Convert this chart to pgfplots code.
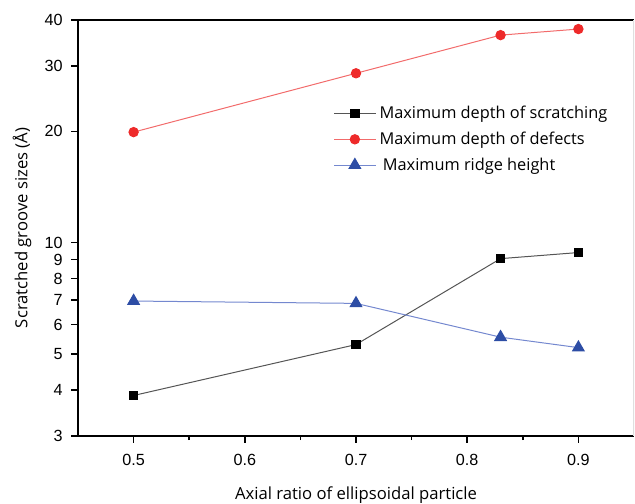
\documentclass[border=0pt]{standalone}
\usepackage{fontspec}
\setmainfont{Open Sans}
\newfontfamily\tickfont{Liberation Sans}
\usepackage{pgfplots}
\pgfplotsset{compat=1.18}

\definecolor{redmk}{HTML}{EE2A2A}
\definecolor{redln}{HTML}{F26B6B}
\definecolor{blumk}{HTML}{2D4DA5}
\definecolor{bluln}{HTML}{7488CF}
\definecolor{blkln}{HTML}{555555}

% axial ratio vs size (Angstrom)
\pgfplotstableread{
x y
0.5  3.86
0.7  5.30
0.83 9.05
0.9  9.40
}\scratch
\pgfplotstableread{
x y
0.5  19.9
0.7  28.7
0.83 36.4
0.9  37.8
}\defects
\pgfplotstableread{
x y
0.5  6.95
0.7  6.85
0.83 5.55
0.9  5.20
}\ridge

\begin{document}
\begin{tikzpicture}
\begin{axis}[
  scale only axis,
  width=333.6pt, height=249.6pt,
  xmin=0.45, xmax=0.95,
  ymode=log, ymin=3, ymax=40,
  axis lines*=left,
  axis line style={line width=0.9pt},
  every tick/.style={black, line width=0.9pt},
  tick align=outside,
  major tick length=4pt, minor tick length=2.5pt,
  xtick={0.5,0.6,0.7,0.8,0.9},
  xticklabels={0.5,0.6,0.7,0.8,0.9},
  minor xtick={0.55,0.65,0.75,0.85},
  ytick={3,4,5,6,7,8,9,10,20,30,40},
  yticklabels={3,4,5,6,7,8,9,10,20,30,40},
  minor ytick={},
  yminorticks=false,
  xticklabel style={font=\tickfont\fontsize{9.7}{11}\selectfont, anchor=base, inner sep=0pt, yshift=-14pt},
  yticklabel style={font=\tickfont\fontsize{9.7}{11}\selectfont, anchor=east, inner sep=0pt, xshift=-5pt},
  xlabel={Axial ratio of ellipsoidal particle},
  ylabel={Scratched groove sizes (Å)},
  every axis x label/.style={at={(rel axis cs:0.5,-0.152)}, anchor=base, font=\fontsize{10}{12}\selectfont},
  every axis y label/.style={at={(rel axis cs:-0.1007,0.5)}, anchor=center, rotate=90, font=\fontsize{10}{12}\selectfont},
  legend cell align=left,
  legend style={draw=none, fill=none, at={(rel axis cs:0.450,0.81)}, anchor=north west,
    font=\fontsize{9.8}{12}\selectfont, row sep=2.5pt},
  legend image code/.code={
    \draw[#1, mark=none] (0pt,0pt) -- (25pt,0pt);
    \draw[#1, only marks] plot coordinates {(12.5pt,0pt)};},
]
\addplot[blkln, line width=0.6pt, mark=square*, mark size=2.6pt, mark options={fill=black, draw=black}]
  table[x=x, y=y] {\scratch};
\addlegendentry{Maximum depth of scratching}
\addplot[redln, line width=0.6pt, mark=*, mark size=2.8pt, mark options={fill=redmk, draw=redmk}]
  table[x=x, y=y] {\defects};
\addlegendentry{Maximum depth of defects}
\addplot[bluln, line width=0.6pt, mark=triangle*, mark size=4pt, mark options={fill=blumk, draw=blumk}]
  table[x=x, y=y] {\ridge};
\addlegendentry{\hspace{2pt}Maximum ridge height}

\draw[black, line width=0.9pt] (rel axis cs:0,1) -- (rel axis cs:1,1);
\draw[gray!25, line width=0.8pt] (rel axis cs:1,0) -- (rel axis cs:1,1);
\coordinate (bl) at (rel axis cs:-0.1403,-0.1635);
\coordinate (tr) at (rel axis cs:1.0018,1.048);
\end{axis}
\pgfresetboundingbox
\path[use as bounding box] (bl) rectangle (tr);
\end{tikzpicture}
\end{document}
